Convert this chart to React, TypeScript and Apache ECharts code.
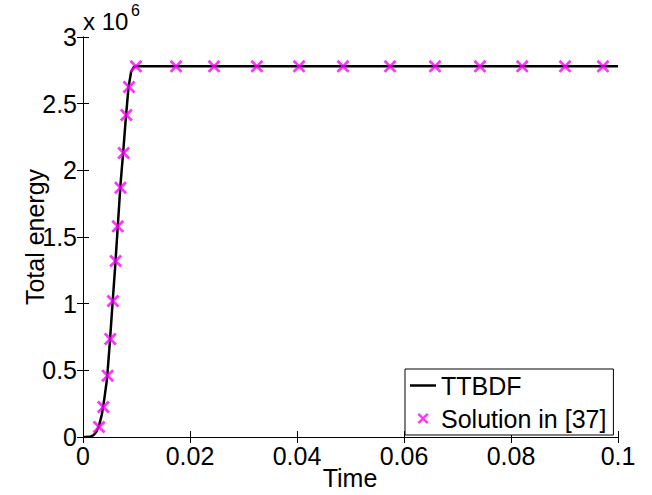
import React, { useEffect, useRef } from "react";
import * as echarts from "echarts";

const xTicks = [0, 0.02, 0.04, 0.06, 0.08, 0.1];
const yTicks = [0, 0.5, 1, 1.5, 2, 2.5, 3];

const ttbdfTime = [0, 0.0005, 0.001, 0.0015, 0.002, 0.0025, 0.003, 0.0035, 0.004, 0.0045, 0.005, 0.0055, 0.006, 0.0065, 0.007, 0.0075, 0.008, 0.0085, 0.009, 0.0095, 0.01, 0.1];
const ttbdfEnergy = [0, 0, 1000, 4000, 15000, 40000, 85000, 165000, 290000, 440000, 700000, 990000, 1270000, 1580000, 1890000, 2130000, 2390000, 2620000, 2740000, 2775000, 2780000, 2780000];

const solutionTime = [0.003, 0.0038, 0.0046, 0.0051, 0.0056, 0.0061, 0.0065, 0.007, 0.0076, 0.0081, 0.0086, 0.0099, 0.0174, 0.0245, 0.0325, 0.0404, 0.0486, 0.0574, 0.0658, 0.0742, 0.0821, 0.0901, 0.0972];
const solutionEnergy = [75000, 225000, 460000, 735000, 1020000, 1320000, 1580000, 1870000, 2130000, 2415000, 2625000, 2780000, 2780000, 2780000, 2780000, 2780000, 2780000, 2780000, 2780000, 2780000, 2780000, 2780000, 2780000];

const seriesNames = ["TTBDF", "Solution in [37]"];

const xPath = "path://M0,1.5L1.5,0L5,3.5L8.5,0L10,1.5L6.5,5L10,8.5L8.5,10L5,6.5L1.5,10L0,8.5L3.5,5Z";
const linePath = "path://M0,0L26,0L26,2.5L0,2.5Z";
const FONT = "'Liberation Sans', Arial, Helvetica, sans-serif";
const FS = 25;

export default function App() {
  const ref = useRef<HTMLDivElement>(null);
  useEffect(() => {
    if (!ref.current) return;
    const chart = echarts.init(ref.current, null, { renderer: "svg" });
    const lineData = ttbdfTime.map((t, i) => [t, ttbdfEnergy[i]]);
    const scatterData = solutionTime.map((t, i) => [t, solutionEnergy[i]]);
    const fmtX = (v: number) => String(parseFloat(v.toFixed(3)));
    const fmtY = (v: number) => String(parseFloat((v / 1e6).toFixed(2)));
    const axisCommon = {
      axisLine: { show: true, lineStyle: { color: "#000", width: 1 } },
      axisTick: { show: true, inside: true, length: 6, lineStyle: { color: "#000", width: 1 } },
      splitLine: { show: false },
    };
    chart.setOption({
      animation: false,
      backgroundColor: "#fff",
      textStyle: { fontFamily: FONT },
      grid: { left: 83, right: 34, top: 37, bottom: 58, containLabel: false },
      xAxis: [
        {
          type: "value", min: 0, max: 0.1, interval: 0.02, position: "bottom",
          ...axisCommon,
          axisLabel: { show: true, color: "#000", fontSize: FS, fontFamily: FONT, margin: 6, formatter: fmtX },
        },
        {
          type: "value", min: 0, max: 0.1, interval: 0.02, position: "top",
          ...axisCommon,
          axisLabel: { show: false },
        },
      ],
      yAxis: [
        {
          type: "value", min: 0, max: 3e6, interval: 5e5, position: "left",
          ...axisCommon,
          axisLabel: { show: true, color: "#000", fontSize: FS, fontFamily: FONT, margin: 6, formatter: fmtY },
        },
        {
          type: "value", min: 0, max: 3e6, interval: 5e5, position: "right",
          ...axisCommon,
          axisLabel: { show: false },
        },
      ],
      legend: {
        left: 405,
        top: 369,
        orient: "vertical",
        backgroundColor: "#fff",
        borderColor: "#000",
        borderWidth: 1,
        padding: [4, 7, 4, 5],
        itemWidth: 26,
        itemHeight: 11,
        itemGap: 8,
        symbolKeepAspect: true,
        textStyle: { color: "#000", fontSize: FS, fontFamily: FONT, lineHeight: 24 },
        data: [
          { name: seriesNames[0], icon: linePath, itemStyle: { color: "#000", borderWidth: 0 } },
          { name: seriesNames[1], icon: xPath, itemStyle: { color: "#ff00ff", borderWidth: 0 } },
        ],
      },
      series: [
        {
          name: seriesNames[0],
          type: "line",
          data: lineData,
          showSymbol: false,
          symbol: "none",
          lineStyle: { color: "#000", width: 2.5 },
          itemStyle: { color: "#000" },
          z: 2,
        },
        {
          name: seriesNames[1],
          type: "scatter",
          data: scatterData,
          symbol: xPath,
          symbolSize: 13,
          itemStyle: { color: "#ff00ff" },
          z: 3,
        },
      ],
      graphic: [
        { type: "text", left: 83, top: 9, style: { text: "x 10", fontSize: 24, fontFamily: FONT, fill: "#000" } },
        { type: "text", left: 131, top: 2, style: { text: "6", fontSize: 16, fontFamily: FONT, fill: "#000" } },
        {
          type: "text", x: 35, y: 237, rotation: Math.PI / 2,
          style: { text: "Total energy", fontSize: FS, fontFamily: FONT, fill: "#000", align: "center", verticalAlign: "middle" },
        },
        {
          type: "text", x: 350, y: 478,
          style: { text: "Time", fontSize: FS, fontFamily: FONT, fill: "#000", align: "center", verticalAlign: "middle" },
        },
      ],
    });
    return () => chart.dispose();
  }, []);
  return <div ref={ref} style={{ position: "fixed", left: 0, top: 0, width: 652, height: 495 }} />;
}
